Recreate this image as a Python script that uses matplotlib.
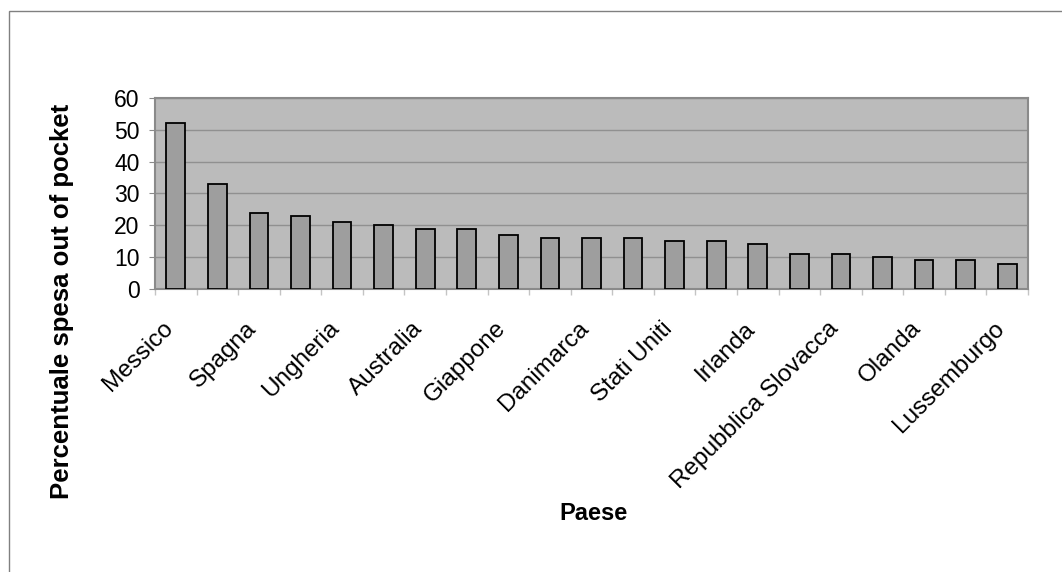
import matplotlib
matplotlib.use("Agg")
import matplotlib.pyplot as plt
import matplotlib.transforms as mtransforms
from matplotlib.patches import Rectangle
import numpy as np

plt.rcParams['font.family'] = ['Liberation Sans', 'DejaVu Sans']

# Out-of-pocket share of health spending, by country (sorted, descending)
values = [52, 33, 24, 23, 21, 20, 19, 19, 17, 16, 16,
          16, 15, 15, 14, 11, 11, 10, 9, 9, 8]
# Only every other category carries a label on the axis
tick_labels = ["Messico", "", "Spagna", "", "Ungheria", "", "Australia", "",
               "Giappone", "", "Danimarca", "", "Stati Uniti", "", "Irlanda", "",
               "Repubblica Slovacca", "", "Olanda", "", "Lussemburgo"]
y_ticks = [0, 10, 20, 30, 40, 50, 60]

W, H = 1062, 572
fig = plt.figure(figsize=(W / 100, H / 100), dpi=100)
fig.patch.set_facecolor('white')

# outer chart-area frame
fig.patches.append(Rectangle((9 / W, -0.1), 1.2, 1 - 11 / H + 0.1,
                             transform=fig.transFigure, fill=False,
                             edgecolor='#808080', linewidth=1.0))

left, right, top, bottom = 155, 1028, 98, 289
ax = fig.add_axes([left / W, 1 - bottom / H, (right - left) / W, (bottom - top) / H])
ax.set_facecolor('#bbbbbb')

x = np.arange(len(values))
ax.bar(x, values, width=0.45, color='#9e9e9e', edgecolor='black',
       linewidth=1.3, zorder=3)

ax.set_xlim(-0.5, len(values) - 0.5)
ax.set_ylim(0, 60)
ax.set_yticks(y_ticks)
ax.set_yticklabels([str(v) for v in y_ticks], fontsize=16.5)
ax.yaxis.grid(True, color='#909090', linewidth=1.0, zorder=0)
ax.set_axisbelow(True)

ax.set_xticks(x)
ax.set_xticklabels(tick_labels, rotation=45, ha='right', va='center',
                   rotation_mode='anchor', fontsize=17.5)
ax.tick_params(axis='x', length=0, pad=26)
shift = mtransforms.ScaledTranslation(-6 / 100, 0, fig.dpi_scale_trans)
for lbl in ax.get_xticklabels():
    lbl.set_transform(lbl.get_transform() + shift)
ax.set_xticks(np.arange(len(values) + 1) - 0.5, minor=True)
ax.tick_params(axis='x', which='minor', length=4.5, color='#c4c4c4', width=1)
ax.tick_params(axis='y', length=4, color='#8a8a8a', pad=7)

for s in ax.spines.values():
    s.set_color('#8a8a8a')
    s.set_linewidth(1.5)

fig.text(62 / W, 1 - 301 / H, "Percentuale spesa out of pocket", rotation=90,
         fontsize=18.5, fontweight='bold', ha='center', va='center')
fig.text(593 / W, 1 - 514 / H, "Paese", fontsize=17, fontweight='bold',
         ha='center', va='center')

fig.savefig("out.png", dpi=100, facecolor='white')
